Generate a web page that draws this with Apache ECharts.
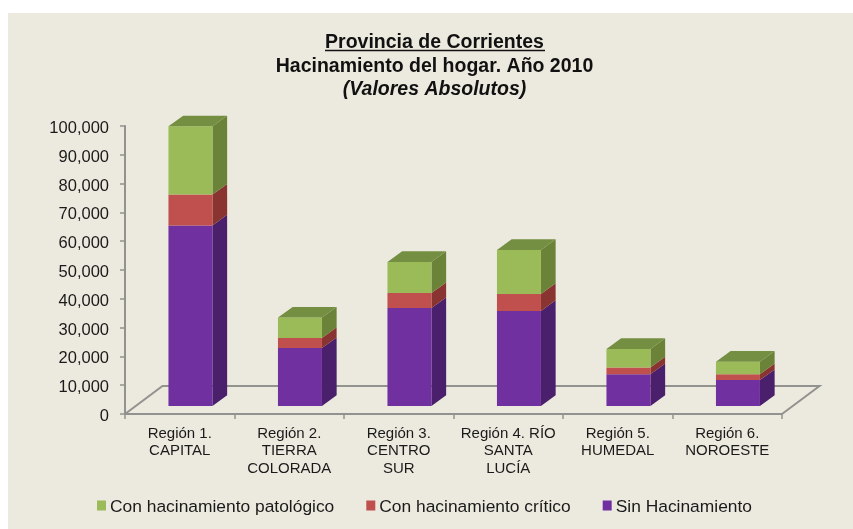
<!DOCTYPE html>
<html>
<head>
<meta charset="utf-8">
<style>html,body{margin:0;padding:0;background:#fff}#c{width:853px;height:529px}</style>
<script src="https://cdn.jsdelivr.net/npm/echarts@6/dist/echarts.min.js"></script>
</head>
<body>
<div id="c"></div>
<script>
const categories = ['Región 1.\nCAPITAL','Región 2.\nTIERRA\nCOLORADA','Región 3.\nCENTRO\nSUR','Región 4. RÍO\nSANTA\nLUCÍA','Región 5.\nHUMEDAL','Región 6.\nNOROESTE'];
const sinHacinamiento = [62700,20100,34000,33000,11000,9000];
const critico = [10700,3500,5200,5900,2400,2000];
const patologico = [23700,7100,10800,15300,6400,4400];
const titleLines = ['Provincia de Corrientes','Hacinamiento del hogar. Año 2010','(Valores Absolutos)'];

const FONT = '"Liberation Sans", Arial, sans-serif';
const TEXT = '#1a1a1a';
const AXIS = '#92928e';
const DX = 14.7, DY = 10.7;      // oblique depth of the 3D look
const BW = 44, SHIFT_X = 10.7, SHIFT_Y = 8;  // bar width, offset from the axis plane

function segment(color, sideColor, topColor, withTop) {
  return function (params, api) {
    const i = api.value(0);
    const b = api.coord([i, api.value(1)]);
    const t = api.coord([i, api.value(2)]);
    const x0 = b[0] - BW / 2 + SHIFT_X, x1 = x0 + BW;
    const y0 = b[1] - SHIFT_Y, y1 = t[1] - SHIFT_Y;
    const children = [
      {type:'polygon', shape:{points:[[x1,y0],[x1+DX,y0-DY],[x1+DX,y1-DY],[x1,y1]]}, style:{fill:sideColor}},
      {type:'rect', shape:{x:x0,y:y1,width:BW,height:y0-y1}, style:{fill:color}}
    ];
    if (withTop) children.push({type:'polygon', shape:{points:[[x0,y1],[x0+DX,y1-DY],[x1+DX,y1-DY],[x1,y1]]}, style:{fill:topColor}});
    return {type:'group', children};
  };
}
function rows(low, vals) { return vals.map((v,i)=>[i, low[i], low[i]+v]); }
const zeros = categories.map(()=>0);
const base2 = sinHacinamiento;
const base3 = sinHacinamiento.map((v,i)=>v+critico[i]);

function floor(params, api) {
  const n = categories.length;
  const band = api.size([1,0])[0];
  const a = api.coord([0,0]), z = api.coord([n-1,0]);
  const p0 = [a[0]-band/2, a[1]], p1 = [z[0]+band/2, z[1]];
  const fx = 37.5, fy = 28;
  return {type:'polyline', silent:true, shape:{points:[p0,[p0[0]+fx,p0[1]-fy],[p1[0]+fx,p1[1]-fy],p1]},
    style:{stroke:AXIS, lineWidth:2, fill:null}};
}

const chart = echarts.init(document.getElementById('c'), null, {renderer:'canvas'});
chart.setOption({
  animation:false,
  backgroundColor:'#ffffff',
  textStyle:{fontFamily:FONT},
  graphic:[
    {type:'rect', z:-10, silent:true, shape:{x:8,y:13,width:845,height:516}, style:{fill:'#ECEADF'}},
    {type:'line', z:10, silent:true, shape:{x1:325,y1:50.5,x2:545,y2:50.5}, style:{stroke:'#111',lineWidth:1.4}}
  ],
  title:{
    left:429.5, top:26, textAlign:'center',
    text:'{a|'+titleLines[0]+'}\n{a|'+titleLines[1]+'}\n{b|'+titleLines[2]+'}',
    textStyle:{rich:{
      a:{fontFamily:FONT,fontSize:19.5,fontWeight:'bold',color:'#111',lineHeight:23.5,align:'center'},
      b:{fontFamily:FONT,fontSize:19.5,fontWeight:'bold',fontStyle:'italic',color:'#111',lineHeight:23.5,align:'center'}
    }}
  },
  legend:{
    data:['Con hacinamiento patológico','Con hacinamiento crítico','Sin Hacinamiento'],
    left:92, top:494, itemWidth:9, itemHeight:10, itemGap:32, icon:'rect',
    formatter:n=>'{t|'+n+'}',
    textStyle:{fontFamily:FONT,fontSize:17.4,color:TEXT,padding:[0,0,0,-1],
      rich:{t:{fontFamily:FONT,fontSize:17.4,color:TEXT,padding:[4,0,0,0]}}}
  },
  grid:{left:125,top:126,width:657,height:288,containLabel:false},
  xAxis:{
    type:'category', data:categories, boundaryGap:true,
    axisLine:{show:true,lineStyle:{color:AXIS,width:2}},
    axisTick:{show:true,alignWithLabel:false,length:5,lineStyle:{color:AXIS,width:1.5}},
    axisLabel:{interval:0,fontFamily:FONT,fontSize:15,lineHeight:17.5,color:TEXT,margin:11,hideOverlap:false}
  },
  yAxis:{
    type:'value', min:0, max:100000, interval:10000,
    splitLine:{show:false},
    axisLine:{show:true,lineStyle:{color:AXIS,width:2}},
    axisTick:{show:true,length:5,lineStyle:{color:AXIS,width:1.5}},
    axisLabel:{fontFamily:FONT,fontSize:16.5,color:TEXT,margin:16,
      formatter:v=>'{v|'+String(v).replace(/\B(?=(\d{3})+$)/g,',')+'}',
      rich:{v:{fontFamily:FONT,fontSize:16.5,color:TEXT,padding:[5,0,0,0]}}}
  },
  series:[
    {type:'custom', name:'floor', silent:true, renderItem:floor, data:[[0,0]], encode:{x:0,y:1}, z:1},
    {type:'custom', name:'Sin Hacinamiento', renderItem:segment('#7030A0','#4A1F6B','#4A1F6B',false),
      itemStyle:{color:'#7030A0'}, encode:{x:0,y:2}, data:rows(zeros,sinHacinamiento), z:3},
    {type:'custom', name:'Con hacinamiento crítico', renderItem:segment('#C0504D','#8A3432','#8A3432',false),
      itemStyle:{color:'#C0504D'}, encode:{x:0,y:2}, data:rows(base2,critico), z:3},
    {type:'custom', name:'Con hacinamiento patológico', renderItem:segment('#9BBB59','#6B8239','#748F42',true),
      itemStyle:{color:'#9BBB59'}, encode:{x:0,y:2}, data:rows(base3,patologico), z:3}
  ]
});
</script>
</body>
</html>
